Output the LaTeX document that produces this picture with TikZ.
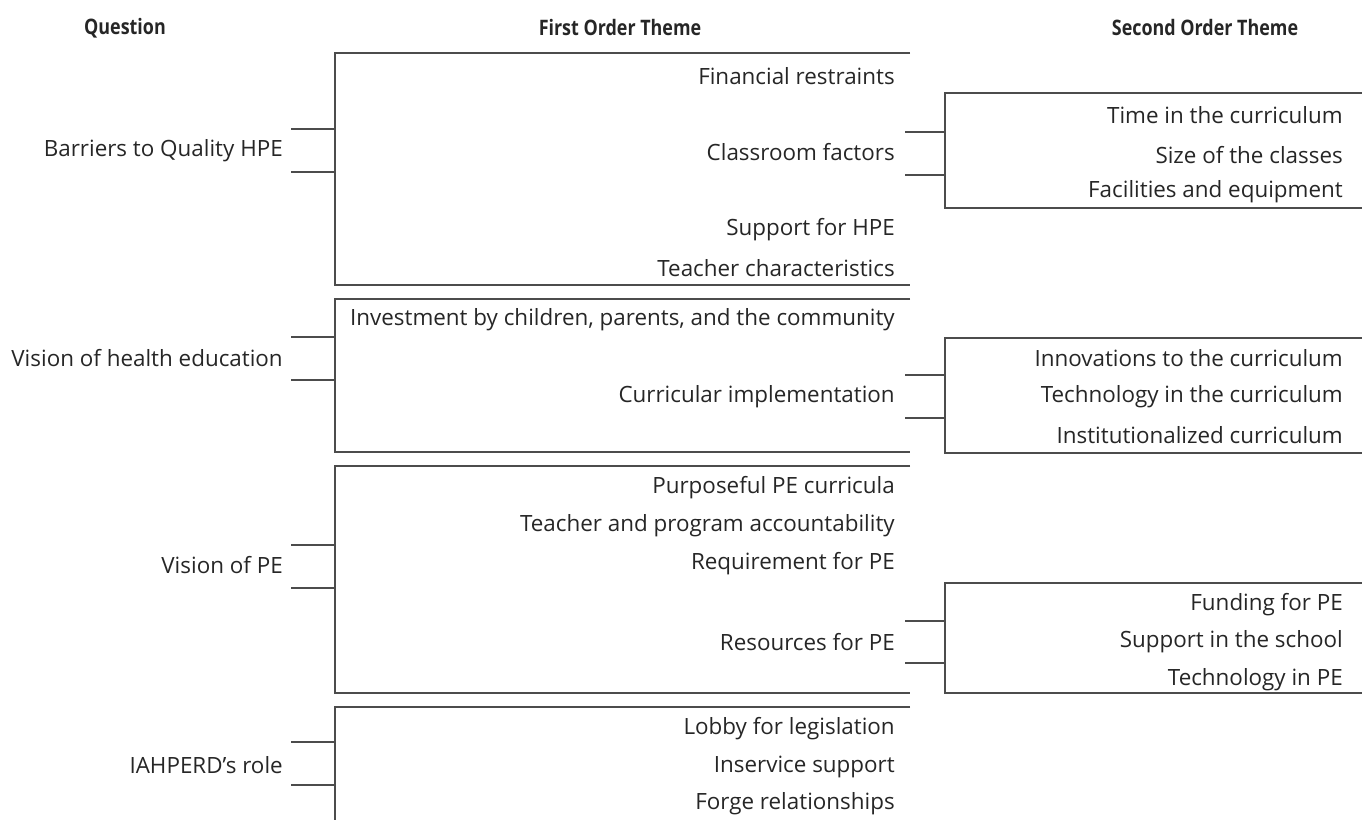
\documentclass[tikz,border=0pt]{standalone}
\usepackage{fontspec}
\setmainfont{Open Sans}
\newfontfamily\headfont[FakeStretch=0.84]{Open Sans}
\usepackage{tikz}
\usetikzlibrary{positioning}

\begin{document}
\begin{tikzpicture}[x=0.75pt,y=-0.75pt,
    every node/.style={font=\fontsize{16.8}{19}\selectfont, text=black!85, inner sep=0pt},
    head/.style={font=\headfont\fontsize{16}{19}\selectfont\bfseries},
    theme/.style={anchor=east},
    bracket/.style={draw=black!70, line width=0.9pt}]
\useasboundingbox (0,0) rectangle (1362,820);

\node[head] (Question) at (125,28) {Question};
\node[head] (FirstOrder) at (620,28) {First Order Theme};
\node[head] (SecondOrder) at (1205,28) {Second Order Theme};

% Barriers
\node[theme] (Barriers) at (283,151) {Barriers to Quality HPE};
\draw[bracket] (910,53) -- (335,53) -- (335,285) -- (910,285);
\draw[bracket] (291,129) -- (335,129);
\draw[bracket] (291,172) -- (335,172);
\node[theme] (Financial) at (895,76) {Financial restraints};
\node[theme] (Classroom) at (895,152) {Classroom factors};
\node[theme] (SupportHPE) at (895,230) {Support for HPE};
\node[theme] (TeacherChar) at (895,268) {Teacher characteristics};
\draw[bracket] (1362,93) -- (945,93) -- (945,208) -- (1362,208);
\draw[bracket] (905,132) -- (945,132);
\draw[bracket] (905,175) -- (945,175);
\node[theme] (TimeCurr) at (1343,115) {Time in the curriculum};
\node[theme] (SizeClass) at (1343,155) {Size of the classes};
\node[theme] (Facilities) at (1343,192) {Facilities and equipment};

% Vision of health education
\node[theme] (VisionHE) at (283,358) {Vision of health education};
\draw[bracket] (910,299) -- (335,299) -- (335,452) -- (910,452);
\draw[bracket] (291,337) -- (335,337);
\draw[bracket] (291,380) -- (335,380);
\node[theme] (Investment) at (895,320) {Investment by children, parents, and the community};
\node[theme] (Curricular) at (895,397) {Curricular implementation};
\draw[bracket] (1362,338) -- (945,338) -- (945,453) -- (1362,453);
\draw[bracket] (905,375) -- (945,375);
\draw[bracket] (905,418) -- (945,418);
\node[theme] (Innovations) at (1343,358) {Innovations to the curriculum};
\node[theme] (TechCurr) at (1343,397) {Technology in the curriculum};
\node[theme] (Institutional) at (1343,435) {Institutionalized curriculum};

% Vision of PE
\node[theme] (VisionPE) at (283,565) {Vision of PE};
\draw[bracket] (910,466) -- (335,466) -- (335,693) -- (910,693);
\draw[bracket] (291,545) -- (335,545);
\draw[bracket] (291,588) -- (335,588);
\node[theme] (Purposeful) at (895,488) {Purposeful PE curricula};
\node[theme] (Accountability) at (895,526) {Teacher and program accountability};
\node[theme] (Requirement) at (895,564) {Requirement for PE};
\node[theme] (Resources) at (895,642) {Resources for PE};
\draw[bracket] (1362,583) -- (945,583) -- (945,693) -- (1362,693);
\draw[bracket] (905,621) -- (945,621);
\draw[bracket] (905,663) -- (945,663);
\node[theme] (Funding) at (1343,605) {Funding for PE};
\node[theme] (SupportSchool) at (1343,642) {Support in the school};
\node[theme] (TechPE) at (1343,680) {Technology in PE};

% IAHPERD
\node[theme] (Role) at (283,765) {IAHPERD’s role};
\draw[bracket] (910,707) -- (335,707) -- (335,820);
\draw[bracket] (291,742) -- (335,742);
\draw[bracket] (291,785) -- (335,785);
\node[theme] (Lobby) at (895,729) {Lobby for legislation};
\node[theme] (Inservice) at (895,767) {Inservice support};
\node[theme] (Forge) at (895,804) {Forge relationships};
\end{tikzpicture}
\end{document}
